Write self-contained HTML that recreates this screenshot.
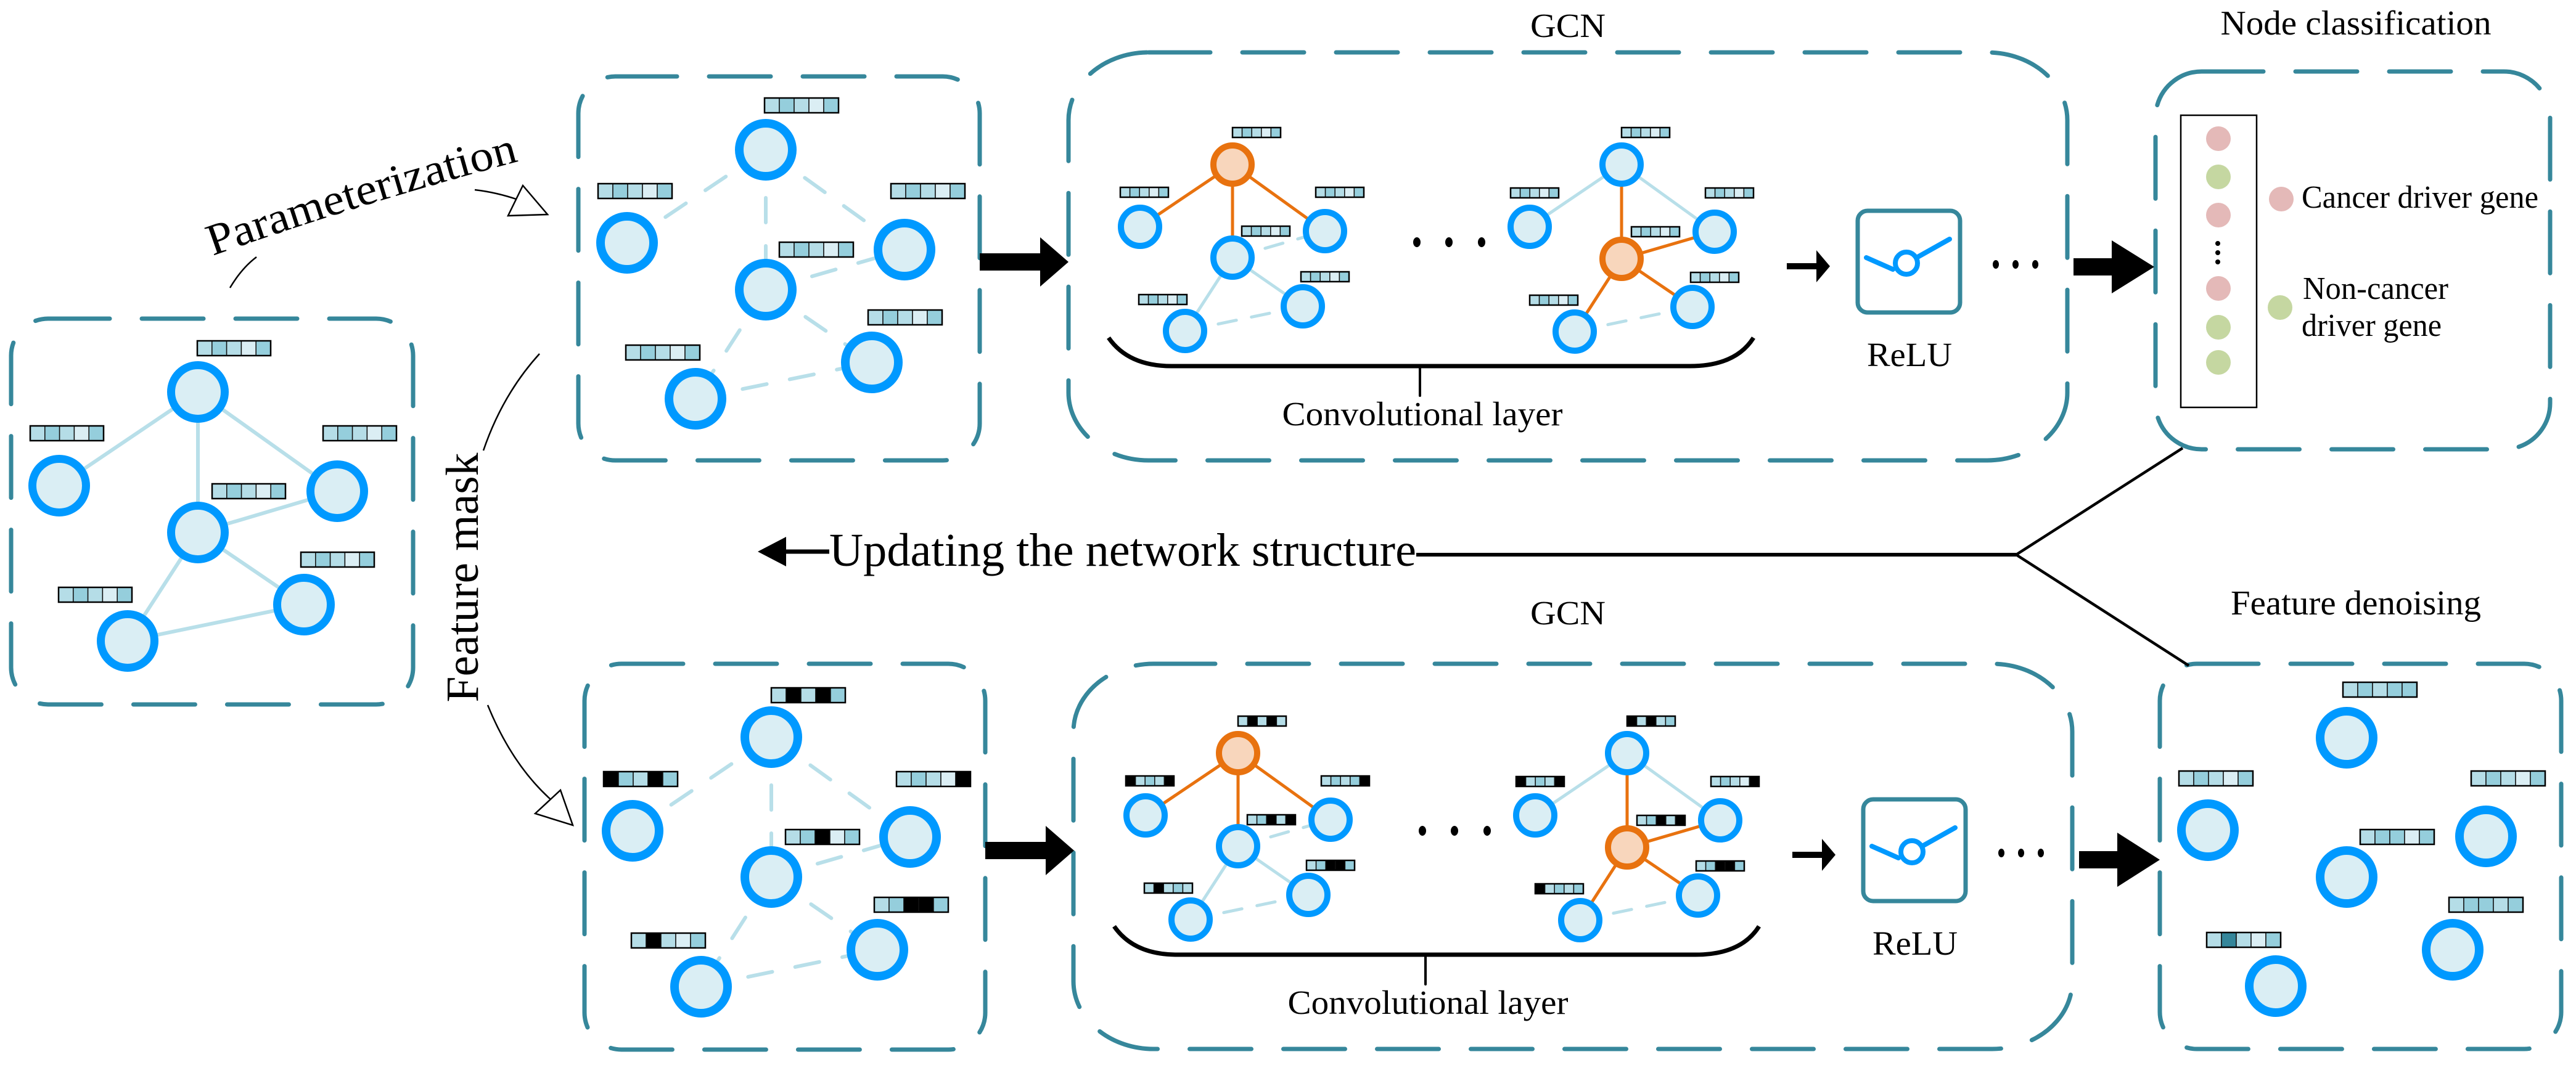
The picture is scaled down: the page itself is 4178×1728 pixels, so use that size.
<!DOCTYPE html>
<html><head><meta charset="utf-8"><style>
html,body{margin:0;padding:0;background:#fff;}
svg{display:block;}
text{font-family:"Liberation Serif",serif;fill:#000;}
</style></head><body>
<svg id="s" xmlns="http://www.w3.org/2000/svg" width="4178" height="1728" viewBox="0 0 4178 1728">
<rect width="4178" height="1728" fill="#fff"/>
<g id="boxes" fill="none" stroke="#36879b" stroke-width="7" stroke-linecap="round" stroke-dasharray="100 52">
<rect x="18" y="517" width="652" height="626" rx="60" ry="60"/>
<rect x="938" y="124" width="651" height="623" rx="60" ry="60"/>
<rect x="948" y="1077" width="650" height="626" rx="60" ry="60"/>
<rect x="1733" y="85" width="1620" height="662" rx="130" ry="110"/>
<rect x="1741" y="1077" width="1620" height="625" rx="130" ry="110"/>
<rect x="3496" y="116" width="640" height="613" rx="75" ry="75"/>
<rect x="3503" y="1077" width="651" height="625" rx="60" ry="60"/>
</g>
<g id="dyn"></g>

<!-- labels -->
<text x="2543" y="60" font-size="55" text-anchor="middle" textLength="122" lengthAdjust="spacingAndGlyphs">GCN</text>
<text x="2543" y="1013" font-size="55" text-anchor="middle" textLength="122" lengthAdjust="spacingAndGlyphs">GCN</text>
<text x="3821" y="56" font-size="56" text-anchor="middle" textLength="439" lengthAdjust="spacingAndGlyphs">Node classification</text>
<text x="3821" y="997" font-size="56" text-anchor="middle" textLength="406" lengthAdjust="spacingAndGlyphs">Feature denoising</text>
<text x="3733" y="337" font-size="52" textLength="384" lengthAdjust="spacingAndGlyphs">Cancer driver gene</text>
<text x="3735" y="485" font-size="52" textLength="236" lengthAdjust="spacingAndGlyphs">Non-cancer</text>
<text x="3733" y="545" font-size="52" textLength="227" lengthAdjust="spacingAndGlyphs">driver gene</text>
<text x="2307" y="690" font-size="55" text-anchor="middle" textLength="455" lengthAdjust="spacingAndGlyphs">Convolutional layer</text>
<text x="2316" y="1645" font-size="55" text-anchor="middle" textLength="455" lengthAdjust="spacingAndGlyphs">Convolutional layer</text>
<text x="3097" y="594" font-size="55" text-anchor="middle" textLength="138" lengthAdjust="spacingAndGlyphs">ReLU</text>
<text x="3106" y="1549" font-size="55" text-anchor="middle" textLength="138" lengthAdjust="spacingAndGlyphs">ReLU</text>
<text x="1345" y="918" font-size="76" textLength="952" lengthAdjust="spacingAndGlyphs">Updating the network structure</text>
<path id="pp" d="M 345 415 Q 585 330 840 262" fill="none"/>
<text font-size="72"><textPath href="#pp" textLength="520" lengthAdjust="spacingAndGlyphs">Parameterization</textPath></text>
<text transform="translate(775,937) rotate(-90)" font-size="75" text-anchor="middle" textLength="405" lengthAdjust="spacingAndGlyphs">Feature mask</text>

<!-- thin arcs & hollow arrows -->
<g fill="none" stroke="#000" stroke-width="2.5">
<path d="M 373 467 Q 392 435 416 417"/>
<path d="M 770 308 Q 805 312 840 324"/>
<polygon points="824,350 848,301 888,348" fill="#fff"/>
<path d="M 875 574 Q 815 640 784 731"/>
<path d="M 791 1144 Q 830 1240 893 1297"/>
<polygon points="868,1320 909,1282 929,1339" fill="#fff"/>
</g>

<!-- updating arrow and branches -->
<g stroke="#000" fill="none">
<line x1="1270" y1="895" x2="1345" y2="895" stroke-width="7"/>
<line x1="2297" y1="900" x2="3270" y2="900" stroke-width="6"/>
<line x1="3270" y1="900" x2="3540" y2="727" stroke-width="4.5"/>
<line x1="3270" y1="900" x2="3550" y2="1080" stroke-width="4.5"/>
</g>
<polygon points="1229,895 1275,871 1275,919" fill="#000"/>

<!-- big arrows -->
<g fill="#000">
<rect x="1589" y="411" width="100" height="28"/><polygon points="1687,385 1733,425 1687,465"/>
<rect x="1598" y="1366" width="100" height="28"/><polygon points="1696,1340 1742,1380 1696,1420"/>
<rect x="3363" y="419" width="64" height="28"/><polygon points="3425,390 3494,433 3425,476"/>
<rect x="3372" y="1381" width="64" height="28"/><polygon points="3434,1351 3503,1395 3434,1439"/>
</g>

<!-- node classification list -->
<rect x="3537" y="187" width="123" height="474" fill="none" stroke="#000" stroke-width="2.5"/>
<g>
<circle cx="3598" cy="225" r="20" fill="#e4b9b8"/>
<circle cx="3598" cy="287" r="20" fill="#c5d7a1"/>
<circle cx="3598" cy="349" r="20" fill="#e4b9b8"/>
<circle cx="3597" cy="395" r="4" fill="#000"/>
<circle cx="3597" cy="410" r="4" fill="#000"/>
<circle cx="3597" cy="425" r="4" fill="#000"/>
<circle cx="3598" cy="468" r="20" fill="#e4b9b8"/>
<circle cx="3598" cy="531" r="20" fill="#c5d7a1"/>
<circle cx="3598" cy="588" r="20" fill="#c5d7a1"/>
<circle cx="3700" cy="323" r="20" fill="#e4b9b8"/>
<circle cx="3698" cy="499" r="20" fill="#c5d7a1"/>
</g>
</svg>
<script>
(function(){
var NS="http://www.w3.org/2000/svg";
var g=document.getElementById("dyn");
function el(t,a,p){var e=document.createElementNS(NS,t);for(var k in a)e.setAttribute(k,a[k]);(p||g).appendChild(e);return e;}
var C={L:"#b5dde7",M:"#95cedc",P:"#dbeef4",B:"#000",D:"#35869a"};
var LB="#b8dfe9",OR="#e8720f";
function bar(x,y,w,h,p,par){var cw=w/5;for(var i=0;i<5;i++){el("rect",{x:x+i*cw,y:y,width:cw,height:h,fill:C[p[i]],stroke:"#111","stroke-width":1.5},par);}el("rect",{x:x,y:y,width:w,height:h,fill:"none",stroke:"#000","stroke-width":2.5},par);}
function node(x,y,R,sw,o,par){el("circle",{cx:x,cy:y,r:R-sw/2,fill:o?"#f8d6bc":"#daeef4",stroke:o?OR:"#0099ff","stroke-width":sw},par);}
function line(a,b,col,w,dash,par){var at={x1:a[0],y1:a[1],x2:b[0],y2:b[1],stroke:col,"stroke-width":w,"stroke-linecap":"round"};if(dash)at["stroke-dasharray"]=dash;el("line",at,par);}
var std="LMLPM";
// left box
var N={t:[321,636],l:[96,788],c:[321,864],r:[547,797],br:[493,981],bl:[207,1040]};
var E=[["t","l"],["t","c"],["t","r"],["c","r"],["c","br"],["c","bl"],["bl","br"]];
E.forEach(function(e){line(N[e[0]],N[e[1]],LB,6);});
for(var k in N)node(N[k][0],N[k][1],50,13,false);
[[320,553],[49,691],[524,691],[344,785],[488,896],[95,953]].forEach(function(b){bar(b[0],b[1],119,24,std);});
// box2 top/bottom
function box2(N,B,P){E.forEach(function(e){line(N[e[0]],N[e[1]],LB,6,"40 38");});for(var k in N)node(N[k][0],N[k][1],50,14,false);B.forEach(function(b,i){bar(b[0],b[1],120,24,P[i]);});}
box2({t:[1242,243],l:[1017,394],r:[1467,405],c:[1242,470],br:[1414,588],bl:[1128,647]},
 [[1240,159],[970,298],[1445,298],[1264,393],[1408,503],[1015,560]],[std,std,std,std,std,std]);
box2({t:[1251,1196],l:[1026,1348],r:[1476,1358],c:[1251,1423],br:[1423,1541],bl:[1137,1601]},
 [[1251,1116],[979,1252],[1454,1252],[1274,1346],[1418,1456],[1024,1514]],
 ["LBLBM","BMLBM","LMLPB","LMBPM","LMBBM","LBLPM"]);
// denoise
[[3806,1197],[3581,1347],[4032,1357],[3806,1423],[3978,1541],[3691,1600]].forEach(function(n){node(n[0],n[1],50,14,false);});
var dp=["LMLMM","LMLPM","LMLPM","LMMPM","LMMLM","LDLPM"];
[[3800,1107],[3534,1251],[4008,1251],[3828,1346],[3972,1456],[3579,1513]].forEach(function(b,i){bar(b[0],b[1],120,24,dp[i]);});
// GCN
function gcn(dx,dy,P1,P2){
 var gg=el("g",{transform:"translate("+dx+","+dy+")"});
 var A={t:[1999,267],l:[1849,368],r:[2149,375],c:[1999,418],br:[2113,497],bl:[1922,537]};
 line(A.t,A.l,OR,5,null,gg);line(A.t,A.r,OR,5,null,gg);line(A.t,A.c,OR,5,null,gg);
 line(A.c,A.bl,LB,5,null,gg);line(A.c,A.br,LB,5,null,gg);line(A.c,A.r,LB,5,"30 25",gg);line(A.bl,A.br,LB,5,"30 25",gg);
 for(var k in A)node(A[k][0],A[k][1],36,10,k=="t",gg);
 [[1999,207],[1817,304],[2134,304],[2014,367],[2110,441],[1847,478]].forEach(function(b,i){bar(b[0],b[1],78,16,P1[i],gg);});
 var Bn={t:[2630,267],l:[2481,368],r:[2781,376],c:[2630,420],br:[2745,498],bl:[2554,538]};
 line(Bn.t,Bn.l,LB,5,null,gg);line(Bn.t,Bn.r,LB,5,null,gg);line(Bn.t,Bn.c,OR,5,null,gg);
 line(Bn.c,Bn.r,OR,5,null,gg);line(Bn.c,Bn.br,OR,5,null,gg);line(Bn.c,Bn.bl,OR,5,null,gg);line(Bn.bl,Bn.br,LB,5,"30 25",gg);
 for(var k2 in Bn)node(Bn[k2][0],Bn[k2][1],36,10,k2=="c",gg);
 [[2630,207],[2450,305],[2766,305],[2646,368],[2742,442],[2481,479]].forEach(function(b,i){bar(b[0],b[1],78,16,P2[i],gg);});
 [2298,2350,2403].forEach(function(x){el("ellipse",{cx:x,cy:393,rx:6,ry:8,fill:"#000"},gg);});
 el("path",{d:"M 1798 548 Q 1830 594 1900 594 L 2741 594 Q 2815 594 2844 548",fill:"none",stroke:"#000","stroke-width":7},gg);
 line([2303,594],[2303,642],"#000",4,null,gg);
 el("rect",{x:2898,y:427,width:52,height:10,fill:"#000"},gg);
 el("polygon",{points:"2946,406 2968,432 2946,458",fill:"#000"},gg);
 el("rect",{x:3013,y:342,width:166,height:165,rx:16,fill:"none",stroke:"#36879b","stroke-width":7},gg);
 line([3027,418],[3070,437],"#0099ff",8,null,gg);
 line([3105,420],[3162,388],"#0099ff",8,null,gg);
 el("circle",{cx:3092,cy:427,r:18,fill:"#fff",stroke:"#0099ff","stroke-width":8},gg);
 [3237,3269,3301].forEach(function(x){el("ellipse",{cx:x,cy:429,rx:5,ry:7,fill:"#000"},gg);});
}
gcn(0,0,[std,std,std,std,std,std],[std,std,std,std,std,std]);
gcn(9,955,["LBLBL","BLMLB","LMLMB","LMBLB","LMBBM","LBLML"],["BLBLM","BLMLB","LMLPB","LMBLB","LMBBM","BLMLM"]);
})();
</script>
</body></html>
